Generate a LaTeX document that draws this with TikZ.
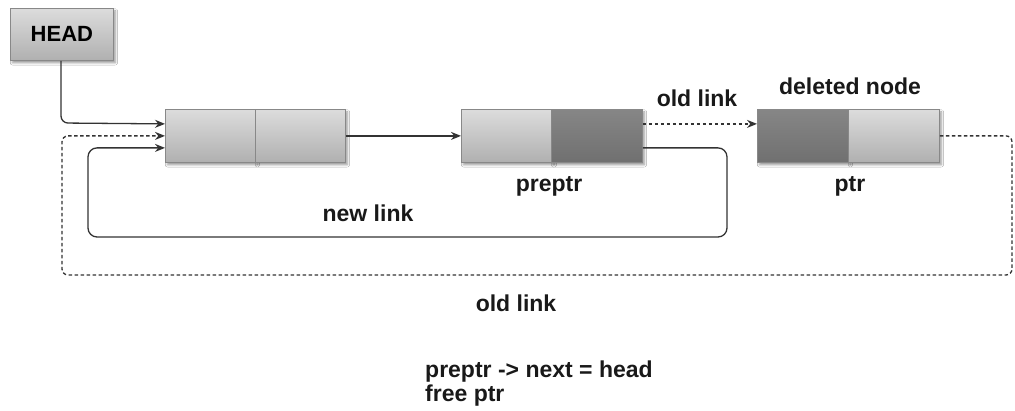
\documentclass[tikz,border=0pt]{standalone}
\usepackage{fontspec}
\setmainfont{Liberation Sans}
\usetikzlibrary{arrows.meta,shadows.blur}
\definecolor{celltop}{HTML}{DCDCDC}
\definecolor{cellbot}{HTML}{B0B0B0}
\definecolor{darktop}{HTML}{868686}
\definecolor{darkbot}{HTML}{707070}
\definecolor{edgegray}{HTML}{888888}
\tikzset{
  cellbase/.style={draw=edgegray, line width=0.8pt, inner sep=0pt, anchor=north west,
    minimum height=53pt, minimum width=90pt,
    blur shadow={shadow xshift=2pt, shadow yshift=-2.5pt, shadow blur steps=5, shadow opacity=40}},
  lightcell/.style={cellbase, top color=celltop, bottom color=cellbot},
  darkcell/.style={cellbase, top color=darktop, bottom color=darkbot},
  lbl/.style={font=\bfseries\fontsize{23}{26}\selectfont, inner sep=0pt, anchor=base, text=black!90},
  link/.style={line width=1.3pt, draw=black!80, -{Stealth[length=10pt,width=8pt]}},
  oldlink/.style={link, dash pattern=on 3.5pt off 2.5pt},
}
\begin{document}
\begin{tikzpicture}[x=1pt,y=-1pt]
\useasboundingbox (0,0) rectangle (1015,411);
\fill[white] (0,0) rectangle (1015,411);

% head pointer
\node[lightcell, minimum width=103pt, minimum height=52pt, font=\bfseries\fontsize{22}{24}\selectfont] (head) at (10,8) {HEAD};

% first node of the list
\node[lightcell] (a1) at (165,109) {};
\node[lightcell] (a2) at (255,109) {};
% preptr node
\node[lightcell, minimum width=91pt] (b1) at (461,109) {};
\node[darkcell, minimum width=91pt] (b2) at (551,109) {};
% node being deleted
\node[darkcell, minimum width=91pt] (c1) at (757,109) {};
\node[lightcell, minimum width=91pt] (c2) at (848,109) {};

% entry and exit points on the cells
\coordinate (a1top) at ([yshift=12pt]a1.west);
\coordinate (a1bot) at ([yshift=-12pt]a1.west);
\coordinate (b2top) at ([yshift=12pt]b2.east);
\coordinate (b2bot) at ([yshift=-12pt]b2.east);
\coordinate (c1top) at ([yshift=12pt]c1.west);

% corner points of the link paths
\coordinate (hd) at (61,123);
\coordinate (nlr) at (727,237);
\coordinate (nll) at (88,237);
\coordinate (olr) at (1012,275);
\coordinate (oll) at (62,275);

% head -> first node
\draw[link, rounded corners=7pt] (head.south -| hd) -- (hd) -- (a1top);
% first node -> preptr
\draw[link] (a2.east) -- (b1.west);
% preptr -> ptr (old link)
\draw[oldlink] (b2top) -- (c1top);
% ptr -> head (old link)
\draw[oldlink, rounded corners=6pt] (c2.east) -- (c2.east -| olr) -- (olr) -- (oll) -- (oll |- a1.west) -- (a1.west);
% preptr -> head (new link)
\draw[link, rounded corners=9pt] (b2bot) -- (b2bot -| nlr) -- (nlr) -- (nll) -- (nll |- a1bot) -- (a1bot);

% labels
\node[lbl] (t1) at (697,107) {old link};
\node[lbl] (t2) at (850,95) {deleted node};
\node[lbl] (t3) at (549,192) {preptr};
\node[lbl] (t4) at (850,192) {ptr};
\node[lbl] (t5) at (368,222) {new link};
\node[lbl] (t6) at (516,312) {old link};
\node[lbl, anchor=base west] (t7) at (425,378) {preptr -> next = head};
\node[lbl, anchor=base west] (t8) at (425,402) {free ptr};
\end{tikzpicture}
\end{document}
